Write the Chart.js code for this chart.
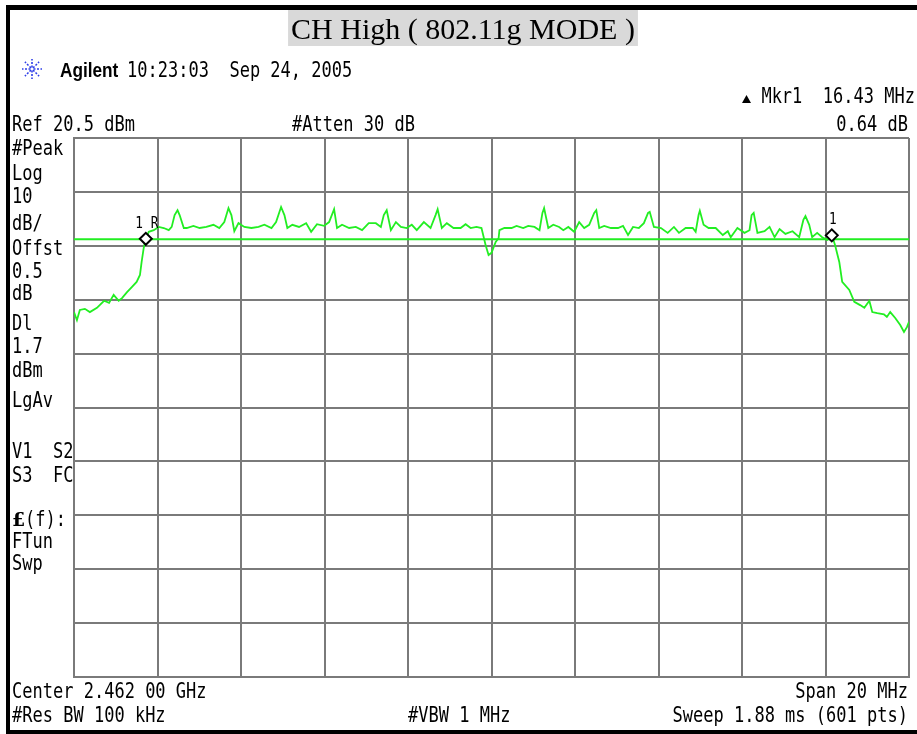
<!DOCTYPE html>
<html>
<head>
<meta charset="utf-8">
<title>CH High (802.11g MODE)</title>
<script src="https://cdn.jsdelivr.net/npm/chart.js@4/dist/chart.umd.min.js"></script>
<style>
  html, body { margin: 0; padding: 0; background: #fff; }
  canvas { display: block; }
</style>
</head>
<body>
<canvas id="sa-chart" width="917" height="734"></canvas>
<script>
// Trace: offset from center (MHz) and level (dBm)
const freqMHz = [
  -10.00, -9.93, -9.86, -9.74, -9.62, -9.45, -9.28, -9.16, -9.05, -8.93,
  -8.85, -8.73, -8.61, -8.50, -8.42, -8.38, -8.33, -8.28, -8.21, -8.09,
  -7.97, -7.85, -7.73, -7.66, -7.59, -7.52, -7.47, -7.37, -7.30, -7.14,
  -6.99, -6.83, -6.66, -6.52, -6.40, -6.30, -6.23, -6.16, -6.06, -5.92,
  -5.75, -5.58, -5.44, -5.27, -5.16, -5.04, -4.96, -4.89, -4.77, -4.61,
  -4.44, -4.32, -4.18, -4.01, -3.89, -3.77, -3.70, -3.58, -3.41, -3.25,
  -3.10, -2.94, -2.77, -2.65, -2.58, -2.51, -2.41, -2.29, -2.17, -2.03,
  -1.91, -1.79, -1.62, -1.46, -1.34, -1.29, -1.19, -1.07, -0.91, -0.74,
  -0.62, -0.50, -0.36, -0.24, -0.14, -0.07, 0.00, 0.10, 0.17, 0.19,
  0.31, 0.48, 0.60, 0.76, 0.88, 1.03, 1.15, 1.22, 1.26, 1.36,
  1.48, 1.62, 1.72, 1.84, 1.98, 2.10, 2.22, 2.34, 2.46, 2.51,
  2.58, 2.70, 2.86, 3.03, 3.15, 3.27, 3.39, 3.53, 3.65, 3.75,
  3.79, 3.89, 4.06, 4.22, 4.37, 4.49, 4.65, 4.82, 4.89, 4.96,
  4.99, 5.08, 5.20, 5.37, 5.54, 5.66, 5.73, 5.89, 6.06, 6.18,
  6.23, 6.28, 6.37, 6.54, 6.66, 6.78, 6.90, 7.04, 7.21, 7.37,
  7.47, 7.52, 7.61, 7.68, 7.80, 7.92, 8.04, 8.16, 8.23, 8.33,
  8.40, 8.57, 8.69, 8.83, 8.93, 9.05, 9.12, 9.24, 9.40, 9.47,
  9.55, 9.67, 9.79, 9.88, 9.95, 10.00
];
const levelDbm = [
  -11.8, -13.3, -11.4, -11.2, -11.8, -11.0, -9.7, -10.1, -8.6, -9.7,
  -9.2, -8.1, -7.1, -6.2, -4.9, -2.5, 0.1, 1.8, 3.1, 3.4,
  4.0, 3.8, 3.4, 4.0, 6.2, 7.1, 6.2, 3.8, 3.8, 4.2,
  3.8, 4.0, 4.4, 3.8, 4.9, 7.5, 6.2, 3.2, 4.7, 4.0,
  3.8, 4.0, 4.4, 3.8, 4.9, 7.7, 6.2, 3.8, 4.4, 4.0,
  4.7, 3.1, 4.5, 4.2, 4.9, 7.3, 3.8, 4.4, 3.8, 4.0,
  3.4, 4.7, 4.7, 4.0, 6.2, 7.1, 3.4, 4.9, 4.0, 3.8,
  4.4, 3.4, 4.9, 3.8, 6.2, 7.3, 3.8, 4.7, 3.8, 3.8,
  4.5, 3.8, 4.0, 3.8, 0.6, -1.2, -0.8, 1.2, 1.9, 3.4,
  3.8, 3.8, 4.2, 3.8, 4.2, 4.0, 3.4, 6.6, 7.5, 3.8,
  4.4, 4.0, 3.4, 4.0, 3.1, 4.9, 3.8, 4.4, 6.6, 7.1,
  3.8, 4.2, 3.8, 3.8, 4.2, 2.5, 4.0, 3.8, 4.7, 6.6,
  6.8, 4.0, 3.8, 2.9, 4.0, 2.9, 3.8, 3.8, 3.1, 6.2,
  7.0, 4.4, 3.8, 3.8, 2.5, 3.2, 2.1, 3.8, 2.9, 3.4,
  6.2, 6.6, 2.9, 3.2, 4.0, 2.1, 3.6, 2.7, 3.2, 2.1,
  5.3, 6.0, 4.4, 2.1, 2.9, 2.1, 1.6, 2.3, 0.6, -2.5,
  -6.2, -7.7, -9.9, -10.5, -11.0, -9.7, -11.8, -12.0, -12.2, -12.7,
  -11.8, -12.9, -14.2, -15.5, -14.6, -13.6
];

// Markers and display line
const markerFreq = [-8.28, 8.15];
const markerLevel = [1.8, 2.44];
const markerLabels = ['1 R', '1'];
const displayLineDbm = 1.7;

// Screen: ref level 20.5 dBm, 10 dB/div, span 20 MHz
const yGridDbm = [20.5, 10.5, 0.5, -9.5, -19.5, -29.5, -39.5, -49.5, -59.5, -69.5, -79.5];
const xGridMHz = [-10, -8, -6, -4, -2, 0, 2, 4, 6, 8, 10];

const leftLabels = [
  ['#Peak', 155], ['Log', 180], ['10', 203], ['dB/', 230], ['Offst', 255],
  ['0.5', 278], ['dB', 300], ['Dl', 330], ['1.7', 353], ['dBm', 377],
  ['LgAv', 407], ['V1  S2', 458], ['S3  FC', 482], ['FTun', 548], ['Swp', 570]
];

const TRACE_GREEN = '#22ee22';
const GRID_GRAY = '#7a7a7a';
const MONO = '"DejaVu Sans Mono", monospace';

function monoText(ctx, text, x, y, align, size, squeeze) {
  size = size || 21;
  squeeze = squeeze || 0.81;
  ctx.save();
  ctx.font = size + 'px ' + MONO;
  ctx.textBaseline = 'alphabetic';
  const w = ctx.measureText(text).width * squeeze;
  let left = x;
  if (align === 'right') left = x - w;
  else if (align === 'center') left = x - w / 2;
  ctx.translate(left, y);
  ctx.scale(squeeze, 1);
  ctx.textAlign = 'left';
  ctx.fillText(text, 0, 0);
  ctx.restore();
}

function drawAgilentLogo(ctx, cx, cy) {
  ctx.save();
  ctx.strokeStyle = '#2f3fe8';
  ctx.lineWidth = 1.6;
  ctx.setLineDash([2, 1.5]);
  for (let k = 0; k < 8; k++) {
    const a = k * Math.PI / 4;
    ctx.beginPath();
    ctx.moveTo(cx + Math.cos(a) * 1.5, cy + Math.sin(a) * 1.5);
    ctx.lineTo(cx + Math.cos(a) * 10, cy + Math.sin(a) * 10);
    ctx.stroke();
  }
  ctx.restore();
}

const screenDecor = {
  id: 'screenDecor',
  beforeDraw(chart) {
    const ctx = chart.ctx;
    ctx.save();
    ctx.fillStyle = '#fff';
    ctx.fillRect(0, 0, chart.width, chart.height);
    ctx.restore();
  },
  afterDraw(chart) {
    const ctx = chart.ctx;
    ctx.save();
    ctx.fillStyle = '#000';

    // title box
    ctx.font = '30px "Liberation Serif", "Times New Roman", serif';
    const title = 'CH High ( 802.11g MODE )';
    const tw = ctx.measureText(title).width;
    const tx = 463 - tw / 2;
    ctx.fillStyle = '#d9d9d9';
    ctx.fillRect(tx - 3, 10, tw + 6, 36);
    ctx.fillStyle = '#000';
    ctx.textBaseline = 'alphabetic';
    ctx.fillText(title, tx, 39);

    // header line
    drawAgilentLogo(ctx, 32, 69);
    ctx.save();
    ctx.font = 'bold 21px "Liberation Sans", Arial, sans-serif';
    ctx.translate(60, 77);
    ctx.scale(0.82, 1);
    ctx.fillText('Agilent', 0, 0);
    ctx.restore();
    monoText(ctx, '10:23:03  Sep 24, 2005', 127, 77);

    // marker readout
    ctx.beginPath();
    ctx.moveTo(742, 103);
    ctx.lineTo(746.5, 95);
    ctx.lineTo(751, 103);
    ctx.closePath();
    ctx.fill();
    monoText(ctx, 'Mkr1  16.43 MHz', 915, 103, 'right');
    monoText(ctx, '0.64 dB', 908, 131, 'right');
    monoText(ctx, 'Ref 20.5 dBm', 12, 131);
    monoText(ctx, '#Atten 30 dB', 292, 131);

    // left annotation column
    leftLabels.forEach(([txt, y]) => monoText(ctx, txt, 12, y));
    ctx.save();
    ctx.font = 'bold 19px "DejaVu Serif", serif';
    ctx.fillText('\u00a3', 12, 526);
    ctx.restore();
    monoText(ctx, '(f):', 25, 526);

    // bottom annotation
    monoText(ctx, 'Center 2.462 00 GHz', 12, 698);
    monoText(ctx, 'Span 20 MHz', 908, 698, 'right');
    monoText(ctx, '#Res BW 100 kHz', 12, 722);
    monoText(ctx, '#VBW 1 MHz', 408, 722);
    monoText(ctx, 'Sweep 1.88 ms (601 pts)', 908, 722, 'right');

    // marker labels
    const xs = chart.scales.x, ys = chart.scales.y;
    markerLabels.forEach((lab, i) => {
      const px = xs.getPixelForValue(markerFreq[i]);
      const py = ys.getPixelForValue(markerLevel[i]);
      monoText(ctx, lab, px + 1, py - 11, 'center', 15, 0.85);
    });

    // frame
    ctx.fillStyle = '#000';
    ctx.fillRect(6, 5, 911, 5);
    ctx.fillRect(6, 5, 4, 729);
    ctx.fillRect(6, 730, 911, 4);
    ctx.restore();
  }
};

const tracePoints = freqMHz.map((f, i) => ({ x: f, y: levelDbm[i] }));
const markerPoints = markerFreq.map((f, i) => ({ x: f, y: markerLevel[i] }));
const dlPoints = [
  { x: xGridMHz[0], y: displayLineDbm },
  { x: xGridMHz[xGridMHz.length - 1], y: displayLineDbm }
];

const ctx = document.getElementById('sa-chart').getContext('2d');
new Chart(ctx, {
  type: 'line',
  data: {
    datasets: [
      {
        label: 'Markers',
        data: markerPoints,
        showLine: false,
        pointStyle: 'rectRot',
        pointRadius: 6,
        pointBorderWidth: 2,
        pointBorderColor: '#000',
        pointBackgroundColor: '#fff',
        order: 0
      },
      {
        label: 'Trace',
        data: tracePoints,
        borderColor: TRACE_GREEN,
        borderWidth: 1.8,
        pointRadius: 0,
        tension: 0,
        order: 1
      },
      {
        label: 'Display line',
        data: dlPoints,
        borderColor: TRACE_GREEN,
        borderWidth: 2,
        pointRadius: 0,
        order: 2
      }
    ]
  },
  options: {
    responsive: false,
    animation: false,
    layout: { padding: { left: 74, top: 138, right: 5, bottom: 57 } },
    plugins: { legend: { display: false }, tooltip: { enabled: false } },
    scales: {
      x: {
        type: 'linear',
        min: -10,
        max: 10,
        afterBuildTicks: (s) => { s.ticks = xGridMHz.map(v => ({ value: v })); },
        ticks: { display: false },
        grid: { color: GRID_GRAY, lineWidth: 2, drawTicks: false },
        border: { display: true, color: GRID_GRAY, width: 2 }
      },
      y: {
        type: 'linear',
        min: -79.5,
        max: 20.5,
        afterBuildTicks: (s) => { s.ticks = yGridDbm.map(v => ({ value: v })); },
        ticks: { display: false },
        grid: { color: GRID_GRAY, lineWidth: 2, drawTicks: false },
        border: { display: true, color: GRID_GRAY, width: 2 }
      }
    }
  },
  plugins: [screenDecor]
});
</script>
</body>
</html>
